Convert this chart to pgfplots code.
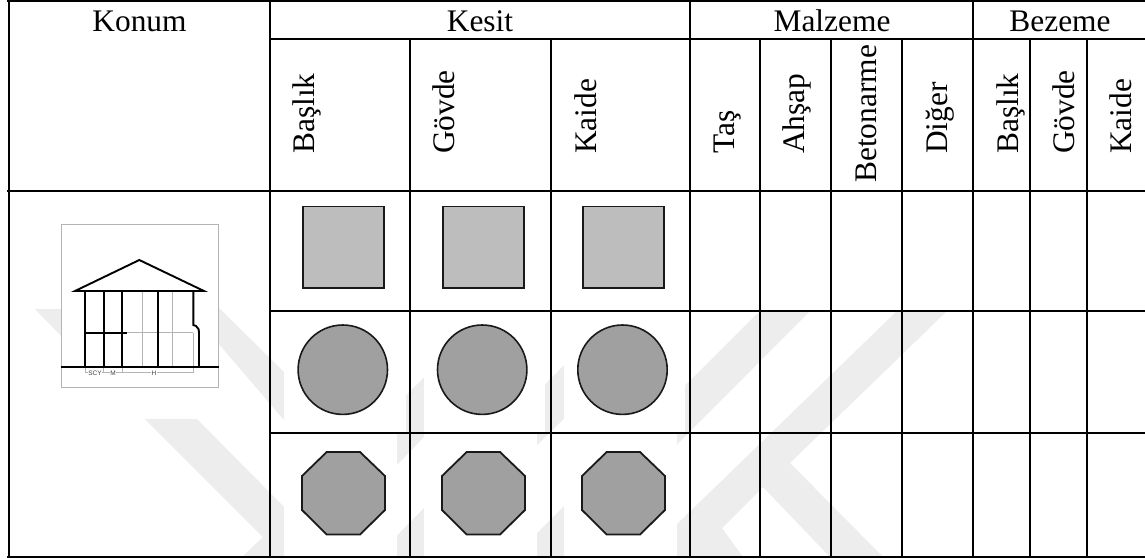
\documentclass[border=0pt]{standalone}
\usepackage{fontspec}
\usepackage{pgfplots}
\pgfplotsset{compat=1.18}
\setmainfont{Liberation Serif}
\newfontfamily\smallsans{Liberation Sans}
\definecolor{wm}{HTML}{EDEDED}
\definecolor{sq}{HTML}{BDBDBD}
\definecolor{ci}{HTML}{A0A0A0}
\definecolor{thng}{HTML}{B4B4B4}
\newcommand{\hd}[3]{\node[anchor=base,inner sep=0pt,font=\fontsize{31.4}{32}\selectfont] at (axis cs:#1,#2) {#3};}
\newcommand{\vt}[3]{\node[anchor=base west,rotate=90,inner sep=0pt,font=\fontsize{31.4}{32}\selectfont] at (axis cs:#1,#2) {#3};}
\begin{document}
\begin{tikzpicture}
\begin{axis}[
  scale only axis, width=1145pt, height=558pt,
  xmin=0, xmax=1145, ymin=0, ymax=558, y dir=reverse,
  axis lines=none, clip=true,
  tblline/.style={black, line width=2pt},
  thk/.style={black, line width=1.9pt, line join=miter},
  thn/.style={draw=thng, line width=1pt},
  wmk/.style={fill=wm, draw=none},
  boxw/.style={fill=white, draw=none},
  shp/.style={line width=1.8pt, draw=black!90, line join=miter},
]
% --- page background, fixes the picture's extent
\addplot[boxw] coordinates {(0,0)(1145,0)(1145,558)(0,558)} -- cycle;
% --- watermark polygons
\addplot[wmk] coordinates {(35,309)(61,309)(61,336)} -- cycle;
\addplot[wmk] coordinates {(218,307)(284,372)(284,420)(218,343)} -- cycle;
\addplot[wmk] coordinates {(145,419)(197,419)(284,507)(284,557)(242,557)(263,537)} -- cycle;
\addplot[wmk] coordinates {(491,310)(547,310)(397,465)(305,557)(284,557)(284,518)} -- cycle;
\addplot[wmk] coordinates {(618,310)(674,310)(424,557)(376,557)} -- cycle;
\addplot[wmk] coordinates {(761,310)(811,310)(565,557)(513,557)} -- cycle;
\addplot[wmk] coordinates {(898,310)(948,310)(790,463)(883,557)(830,557)(763,487)(722,528)(743,557)(643,557)} -- cycle;
% --- white picture boxes that hide the watermark
\addplot[boxw] coordinates {(61,224)(218,224)(218,387)(61,387)} -- cycle;
\addplot[boxw] coordinates {(284,311)(406,311)(406,433)(284,433)} -- cycle;
\addplot[boxw] coordinates {(424,311)(545,311)(545,433)(424,433)} -- cycle;
\addplot[boxw] coordinates {(564,311)(685,311)(685,433)(564,433)} -- cycle;
\addplot[boxw] coordinates {(284,433)(397,433)(397,557)(284,557)} -- cycle;
\addplot[boxw] coordinates {(424,433)(537,433)(537,557)(424,557)} -- cycle;
\addplot[boxw] coordinates {(564,433)(677,433)(677,557)(564,557)} -- cycle;
% --- table grid
\addplot[tblline] coordinates {(7,1)(1145,1)};
\addplot[tblline] coordinates {(270,38.5)(1145,38.5)};
\addplot[tblline] coordinates {(7,190.5)(1145,190.5)};
\addplot[tblline] coordinates {(270,311)(1145,311)};
\addplot[tblline] coordinates {(270,433)(1145,433)};
\addplot[tblline] coordinates {(7,556.5)(1145,556.5)};
\addplot[tblline] coordinates {(8.5,0)(8.5,558)};
\addplot[tblline] coordinates {(270,0)(270,558)};
\addplot[tblline] coordinates {(410,38.5)(410,558)};
\addplot[tblline] coordinates {(550.5,38.5)(550.5,558)};
\addplot[tblline] coordinates {(690,0)(690,558)};
\addplot[tblline] coordinates {(760,38.5)(760,558)};
\addplot[tblline] coordinates {(831,38.5)(831,558)};
\addplot[tblline] coordinates {(902,38.5)(902,558)};
\addplot[tblline] coordinates {(973,0)(973,558)};
\addplot[tblline] coordinates {(1030,38.5)(1030,558)};
\addplot[tblline] coordinates {(1087,38.5)(1087,558)};
% --- section drawing in the location cell
\addplot[draw=thng, line width=0.9pt] coordinates {(61,224)(218,224)(218,387)(61,387)} -- cycle;
\addplot[thn] coordinates {(142.7,291)(142.7,367)};
\addplot[thn] coordinates {(172.7,291)(172.7,367)};
\addplot[thn] coordinates {(127,332.7)(193.3,332.7)};
\addplot[thn] coordinates {(193.3,332.7)(193.3,372.7)};
\addplot[thn] coordinates {(85.3,367)(85.3,372.7)(193.3,372.7)};
\addplot[thn] coordinates {(103.7,367)(103.7,372.7)};
\addplot[thn] coordinates {(122,367)(122,372.7)};
\addplot[thk] coordinates {(75,291)(139.3,260)(204,291)} -- cycle;
\addplot[thk] coordinates {(85.3,291)(85.3,367)};
\addplot[thk] coordinates {(103.7,291)(103.7,367)};
\addplot[thk] coordinates {(122,291)(122,367)};
\addplot[thk] coordinates {(158,291)(158,367)};
\addplot[thk] coordinates {(193.3,291)(193.3,325)(196,326)(198.5,329)(199,332)(199,367)};
\addplot[thk] coordinates {(85.3,332.7)(127,332.7)};
\addplot[thk] coordinates {(60.5,367)(218.5,367)};
\node[fill=white,inner sep=0.3pt,font=\smallsans\fontsize{6.5}{6.5}\selectfont,text=black!75] at (axis cs:95,373) {SCY};
\node[fill=white,inner sep=0.3pt,font=\smallsans\fontsize{6.5}{6.5}\selectfont,text=black!75] at (axis cs:113,373) {M};
\node[fill=white,inner sep=0.3pt,font=\smallsans\fontsize{6.5}{6.5}\selectfont,text=black!75] at (axis cs:154,373) {H};
% --- squares
\addplot[shp, fill=sq] coordinates {(303,206.5)(384,206.5)(384,288)(303,288)} -- cycle;
\addplot[shp, fill=sq] coordinates {(443,206.5)(524,206.5)(524,288)(443,288)} -- cycle;
\addplot[shp, fill=sq] coordinates {(583,206.5)(664,206.5)(664,288)(583,288)} -- cycle;
% --- circles
\addplot[only marks, mark=*, mark size=44.7pt, mark options={fill=ci, draw=black!90, line width=1.6pt}] coordinates {(342.8,369.7)(482.2,369.7)(622.5,369.7)};
% --- octagons
\addplot[shp, fill=ci] coordinates {(326.7,452)(360,452)(385,476)(385,510)(360,534.5)(326.7,534.5)(302,510)(302,476)} -- cycle;
\addplot[shp, fill=ci] coordinates {(466.7,452)(500,452)(525,476)(525,510)(500,534.5)(466.7,534.5)(442,510)(442,476)} -- cycle;
\addplot[shp, fill=ci] coordinates {(606.7,452)(640,452)(665,476)(665,510)(640,534.5)(606.7,534.5)(582,510)(582,476)} -- cycle;
% --- header text
\hd{139.5}{31}{Konum}
\hd{480}{31}{Kesit}
\hd{832}{31}{Malzeme}
\hd{1060}{31}{Bezeme}
\vt{314.5}{154}{Başlık}
\vt{454.5}{154}{Gövde}
\vt{596}{154}{Kaide}
\vt{734}{154}{Taş}
\vt{804.7}{154}{Ahşap}
\vt{876}{183}{Betonarme}
\vt{947}{154}{Diğer}
\vt{1018}{154}{Başlık}
\vt{1074}{154}{Gövde}
\vt{1131}{154}{Kaide}
\end{axis}
\end{tikzpicture}
\end{document}
